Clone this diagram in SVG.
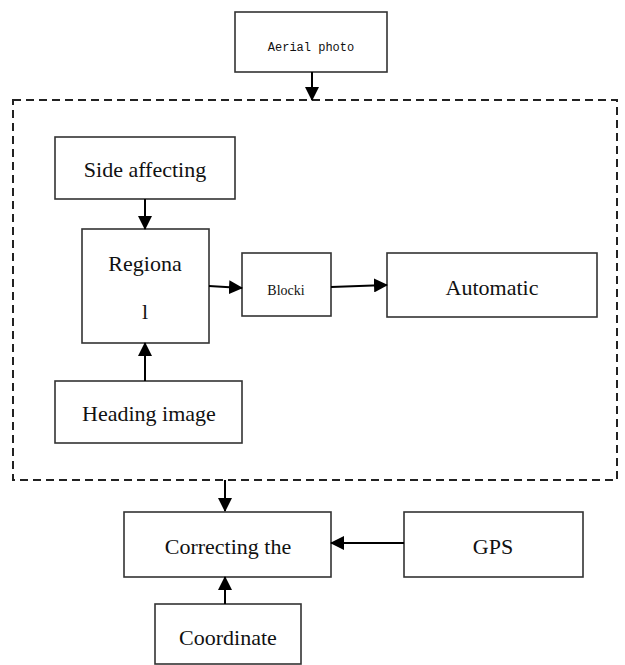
<svg xmlns="http://www.w3.org/2000/svg" width="625" height="665" viewBox="0 0 625 665">
<defs>
<marker id="ah" markerWidth="14" markerHeight="14" refX="13" refY="7" orient="auto" markerUnits="userSpaceOnUse" viewBox="0 0 14 14">
<path d="M0,0 L14,7 L0,14 z" fill="#000"/>
</marker>
<style>
.box{fill:#fff;stroke:#333;stroke-width:1.6}
.t{font-family:"Liberation Serif",serif;font-size:22px;fill:#111;text-anchor:middle}
.s{font-family:"Liberation Serif",serif;font-size:14px;fill:#111;text-anchor:middle}
.m{font-family:"Liberation Mono",monospace;font-size:12px;fill:#111;text-anchor:middle}
.c{stroke:#000;stroke-width:2;fill:none}
</style>
</defs>
<rect x="0" y="0" width="625" height="665" fill="#fff"/>
<rect x="13" y="100" width="604" height="380" fill="none" stroke="#222" stroke-width="2" stroke-dasharray="8,5"/>
<g id="aerial"><rect class="box" x="235" y="12" width="152" height="60"/><text class="m" x="311" y="51">Aerial photo</text></g>
<g id="side"><rect class="box" x="55" y="137" width="180" height="62"/><text class="t" x="145" y="177">Side affecting</text></g>
<g id="regional"><rect class="box" x="82" y="229" width="127" height="114"/><text class="t" x="145" y="271">Regiona</text><text class="t" x="145" y="319">l</text></g>
<g id="blocki"><rect class="box" x="242" y="253" width="89" height="63"/><text class="s" x="286" y="295">Blocki</text></g>
<g id="automatic"><rect class="box" x="387" y="253" width="210" height="64"/><text class="t" x="492" y="295">Automatic</text></g>
<g id="heading"><rect class="box" x="55" y="381" width="187" height="62"/><text class="t" x="149" y="421">Heading image</text></g>
<g id="correcting"><rect class="box" x="124" y="512" width="207" height="65"/><text class="t" x="228" y="554">Correcting the</text></g>
<g id="gps"><rect class="box" x="404" y="512" width="179" height="65"/><text class="t" x="493" y="554">GPS</text></g>
<g id="coordinate"><rect class="box" x="155" y="604" width="146" height="60"/><text class="t" x="228" y="645">Coordinate</text></g>
<g id="connectors">
<line class="c" x1="312" y1="72" x2="312" y2="100" marker-end="url(#ah)"/>
<line class="c" x1="145" y1="199" x2="145" y2="229" marker-end="url(#ah)"/>
<line class="c" x1="209" y1="286" x2="242" y2="288" marker-end="url(#ah)"/>
<line class="c" x1="331" y1="287" x2="387" y2="285" marker-end="url(#ah)"/>
<line class="c" x1="145" y1="381" x2="145" y2="343" marker-end="url(#ah)"/>
<line class="c" x1="225" y1="480" x2="225" y2="511" marker-end="url(#ah)"/>
<line class="c" x1="404" y1="543" x2="331" y2="543" marker-end="url(#ah)"/>
<line class="c" x1="225" y1="604" x2="225" y2="577" marker-end="url(#ah)"/>
</g>
</svg>
